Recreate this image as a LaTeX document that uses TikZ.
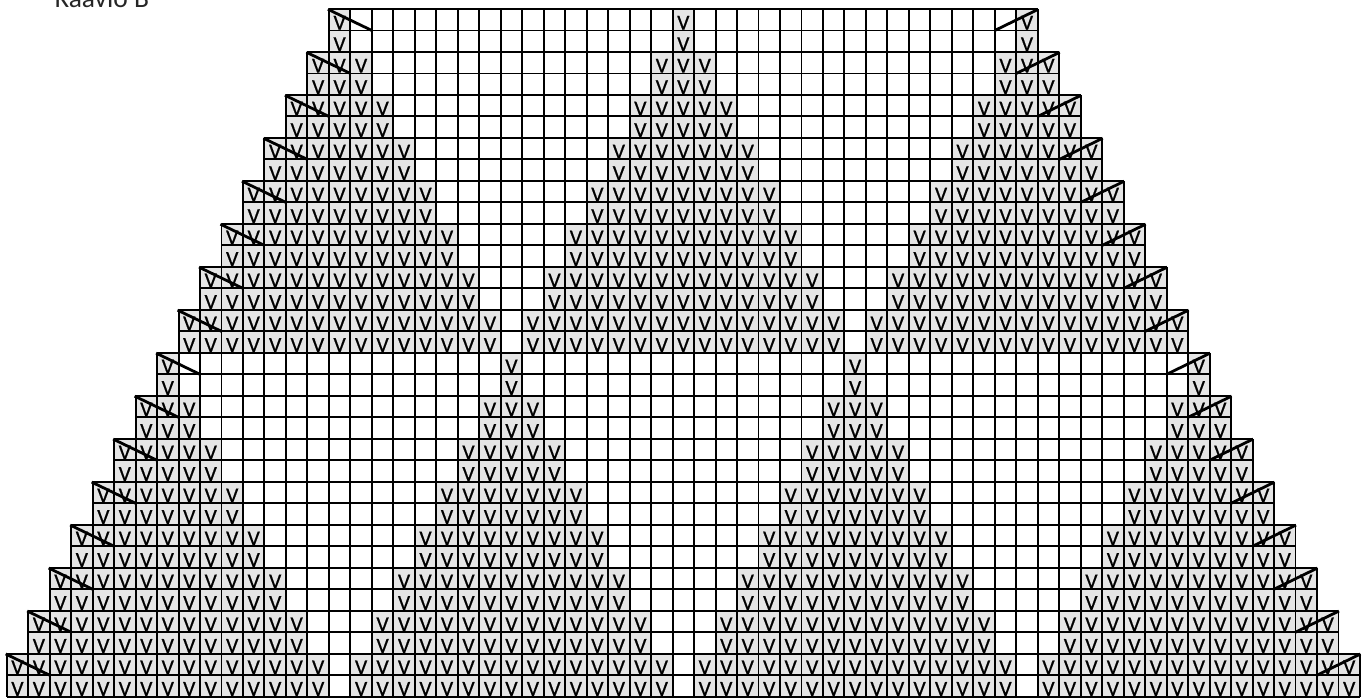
\documentclass[tikz,border=0pt]{standalone}
\usepackage{fontspec}
\setmainfont{Carlito}
\newfontfamily\stitchfont[FakeBold=0.6]{Carlito}
\tikzset{
  gridline/.style={draw=black,line width=1.45pt},
  stitchfill/.style={fill=stitchgrey},
  stitch/.style={inner sep=0pt,outer sep=0pt,anchor=base,font=\stitchfont\fontsize{16.2pt}{16.2pt}\selectfont,text=black},
  slant/.style={draw=black,line width=2.1pt},
  heading/.style={inner sep=0pt,outer sep=0pt,anchor=base west,font=\fontsize{20.6pt}{20.6pt}\selectfont,text=black!85}
}
\definecolor{stitchgrey}{gray}{0.9}
\newcommand{\cw}{21.48}
\newcommand{\rh}{21.49}
\newcommand{\xo}{6.7}
\newcommand{\yo}{9.0}
\begin{document}
\begin{tikzpicture}[x=0.75pt,y=-0.75pt]
\useasboundingbox (0,0) rectangle (1372,700);
\clip (0,0) rectangle (1372,700);
\fill[white] (0,0) rectangle (1372,700);
\node[heading] (title) at (55,7.5) {Kaavio B};
% cell fills
\foreach \k in {0,...,15}{
  \pgfmathtruncatemacro{\half}{\k<8 ? \k : \k-8}
  \ifnum\k<8 \def\cens{15,31,47}\else \def\cens{7,23,39,55}\fi
  \foreach \cen in \cens{
    \pgfmathsetmacro{\xa}{\xo+(\cen-\half)*\cw}
    \pgfmathsetmacro{\xb}{\xo+(\cen+\half+1)*\cw}
    \pgfmathsetmacro{\ya}{\yo+2*\k*\rh}
    \pgfmathsetmacro{\yb}{\ya+2*\rh}
    \fill[stitchfill] (\xa,\ya) rectangle (\xb,\yb);
  }
}
% grid
\foreach \r in {0,...,31}{
  \pgfmathtruncatemacro{\k}{int(\r/2)}
  \pgfmathsetmacro{\xl}{\xo+(15-\k)*\cw}
  \pgfmathsetmacro{\xr}{\xo+(48+\k)*\cw}
  \pgfmathsetmacro{\ya}{\yo+\r*\rh}
  \pgfmathsetmacro{\yb}{\ya+\rh}
  \draw[gridline] (\xl,\ya) -- (\xr,\ya);
  \draw[gridline] (\xl,\yb) -- (\xr,\yb);
  \pgfmathtruncatemacro{\ca}{15-\k}
  \pgfmathtruncatemacro{\cb}{48+\k}
  \foreach \c in {\ca,...,\cb}{
    \pgfmathsetmacro{\xx}{\xo+\c*\cw}
    \draw[gridline] (\xx,\ya) -- (\xx,\yb);
  }
}
% stitches
\foreach \k in {0,...,15}{
  \pgfmathtruncatemacro{\half}{\k<8 ? \k : \k-8}
  \ifnum\k<8 \def\cens{15,31,47}\else \def\cens{7,23,39,55}\fi
  \foreach \cen in \cens{
    \pgfmathtruncatemacro{\ca}{\cen-\half}
    \pgfmathtruncatemacro{\cb}{\cen+\half}
    \foreach \c in {\ca,...,\cb}{
      \pgfmathsetmacro{\xx}{\xo+(\c+0.5)*\cw}
      \foreach \q in {1,2}{
        \pgfmathsetmacro{\yy}{\yo+(2*\k+\q)*\rh-0.8}
        \node[stitch] (v-\k-\q-\c) at (\xx,\yy) {V};
      }
    }
  }
}
% slanted decrease lines
\foreach \k in {0,...,15}{
  \pgfmathsetmacro{\xl}{\xo+(15-\k)*\cw}
  \pgfmathsetmacro{\xr}{\xo+(48+\k)*\cw}
  \pgfmathsetmacro{\ya}{\yo+2*\k*\rh}
  \coordinate (la-\k) at (\xl-1,\ya+0.3);
  \coordinate (lb-\k) at (\xl+2*\cw,\ya+\rh);
  \coordinate (ra-\k) at (\xr+0.5,\ya+0.3);
  \coordinate (rb-\k) at (\xr-2*\cw,\ya+\rh);
  \draw[slant] (la-\k) -- (lb-\k);
  \draw[slant] (ra-\k) -- (rb-\k);
}
\end{tikzpicture}
\end{document}
